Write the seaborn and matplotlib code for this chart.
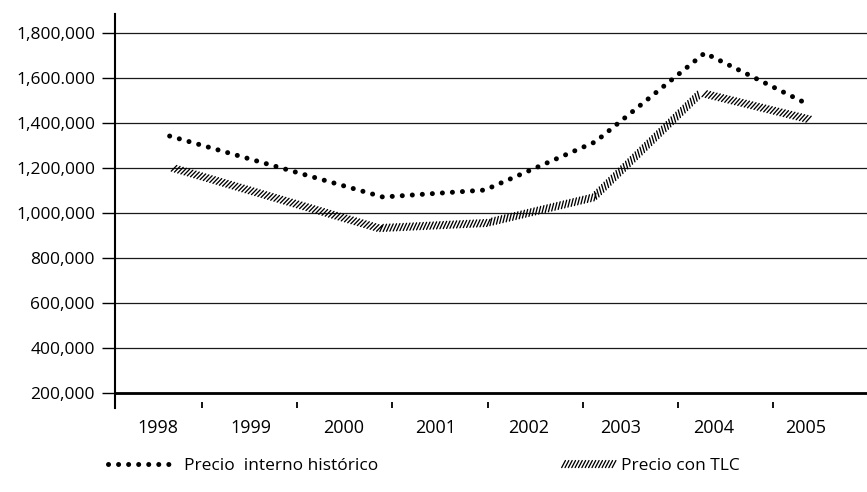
import numpy as np
import pandas as pd
import matplotlib
matplotlib.use("Agg")
import matplotlib.pyplot as plt
import seaborn as sns
from matplotlib import patheffects as pe

# ---------------- data ----------------
anios = [1998, 1999, 2000, 2001, 2002, 2003, 2004, 2005]
anio_hist = [1998.16, 2000.40, 2001.47, 2002.63, 2003.78, 2004.88]
precio_hist = [1342000, 1071000, 1102000, 1316000, 1711000, 1480000]
anio_tlc = [1998.16, 2000.35, 2001.49, 2002.63, 2003.75, 2004.86]
precio_tlc = [1204000, 933000, 956000, 1071000, 1533000, 1418000]
y_ticks = [200000, 400000, 600000, 800000, 1000000, 1200000, 1400000, 1600000, 1800000]
y_labels = ["200,000", "400,000", "600,000", "800,000", "1,000,000",
            "1,200,000", "1,400,000", "1,600.000", "1,800,000"]
serie_hist = "Precio  interno histórico"
serie_tlc = "Precio con TLC"

df_hist = pd.DataFrame({"anio": anio_hist, "precio": precio_hist})
df_tlc = pd.DataFrame({"anio": anio_tlc, "precio": precio_tlc})

# ---------------- style ----------------
sns.set_theme(style="white")
plt.rcParams["font.family"] = ["Open Sans", "DejaVu Sans"]
plt.rcParams["text.color"] = "black"

W, H = 867, 492
fig = plt.figure(figsize=(W / 100, H / 100), dpi=100)
fig.patch.set_facecolor("white")
ax = fig.add_axes([115 / W, 1 - 408 / H, (W - 115) / W, (408 - 14) / H])
ax.set_facecolor("white")

# dotted series
sns.lineplot(data=df_hist, x="anio", y="precio", ax=ax, color="black",
             linewidth=3.6, linestyle=(0, (0.01, 2.0)), dash_capstyle="round",
             label=serie_hist, sort=False)
# hatched series
sns.lineplot(data=df_tlc, x="anio", y="precio", ax=ax, color="black",
             linewidth=0.95, label=serie_tlc, sort=False)
line_hist, line_tlc = ax.lines[0], ax.lines[1]
line_tlc.set_path_effects([pe.TickedStroke(offset=(0, -2.6), spacing=2.4,
                                           angle=62, length=2.4)])

if ax.get_legend() is not None:
    ax.get_legend().remove()

# axes limits
ax.set_xlim(1997.586, 2005.485)
ax.set_ylim(133333, 1884444)

# y axis
ax.set_yticks(y_ticks)
ax.set_yticklabels(y_labels)
ax.yaxis.grid(True, color="#1a1a1a", linewidth=0.9)
ax.tick_params(axis="y", left=True, length=9.4, width=1.0, direction="out",
               pad=5, labelsize=12.5, colors="black")
ax.axhline(200000, color="black", linewidth=2.0, zorder=3)

# x axis: tick marks between years, labels in minor ticks
ax.set_xticks([a + 0.5 for a in anios[:-1]])
ax.set_xticklabels([])
ax.tick_params(axis="x", which="major", bottom=True, direction="in",
               length=4, width=1.3, colors="black")
lab_pos = [a + 0.04 - 0.028 * i for i, a in enumerate(anios)]
ax.set_xticks(lab_pos, minor=True)
ax.set_xticklabels([str(a) for a in anios], minor=True)
ax.tick_params(axis="x", which="minor", bottom=True, length=0, pad=8,
               labelsize=13, labelcolor="black")
ax.set_xlabel("")
ax.set_ylabel("")

for s in ["top", "right", "bottom"]:
    ax.spines[s].set_visible(False)
ax.spines["left"].set_color("black")
ax.spines["left"].set_linewidth(1.5)

# legends
fig.legend(handles=[line_hist], labels=[serie_hist], loc="center left",
           bbox_to_anchor=(108 / W, 1 - 466 / H), frameon=False,
           handlelength=3.5, handletextpad=0.9, fontsize=12.5,
           borderpad=0, borderaxespad=0)
fig.legend(handles=[line_tlc], labels=[serie_tlc], loc="center left",
           bbox_to_anchor=(560 / W, 1 - 466 / H), frameon=False,
           handlelength=3.1, handletextpad=0.4, fontsize=12.5,
           borderpad=0, borderaxespad=0)

fig.savefig("out.png", dpi=100, facecolor="white")
